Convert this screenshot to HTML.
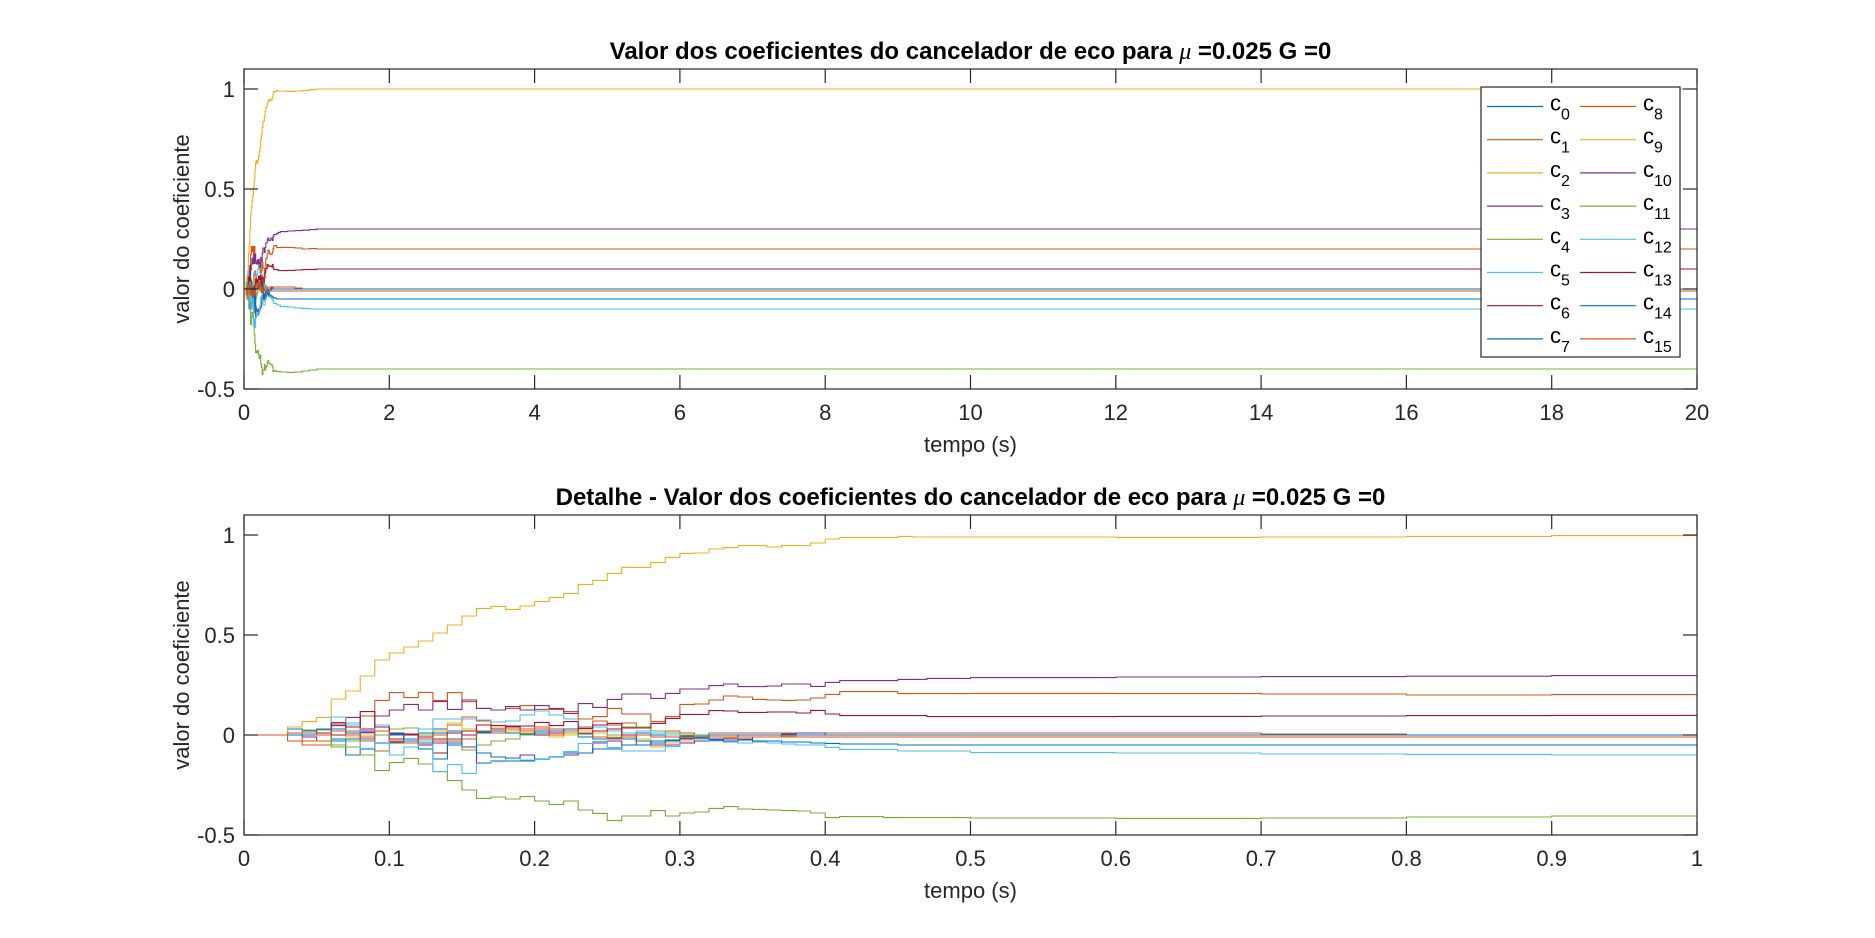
<!DOCTYPE html>
<html><head><meta charset="utf-8"><style>
html,body{margin:0;padding:0;background:#fff;}
svg{display:block;font-family:"Liberation Sans",Arial,sans-serif;}
</style></head><body>
<svg id="fig" width="1875" height="938" viewBox="0 0 1875 938" xmlns="http://www.w3.org/2000/svg"></svg>
<script>
// time steps: index k -> t = k*0.01 for k=0..50, then late entries at t=0.6,0.7,0.8,0.9,1.0
const stepTimes = [];
for (let k = 0; k <= 50; k++) stepTimes.push(k / 100);
stepTimes.push(0.6, 0.7, 0.8, 0.9, 1.0);
const seriesNames = ["c0","c1","c2","c3","c4","c5","c6","c7","c8","c9","c10","c11","c12","c13","c14","c15"];
const seriesColors = ["#0072BD","#D95319","#EDB120","#7E2F8E","#77AC30","#4DBEEE","#A2142F","#0072BD","#D95319","#EDB120","#7E2F8E","#77AC30","#4DBEEE","#A2142F","#0072BD","#D95319"];
const c0 = [0,0,0,0.03,0.02,0.025,-0.03,-0.02,0.01,0.02,0.0,-0.02,0.01,0.03,0.02,-0.02,0.01,0.03,0.02,0.0,0.02,0.01,0.0,-0.01,-0.02,-0.01,0.0,0.01,0.0,-0.01,-0.005,0,0,0,0,0,0,0,0,0,0,0,0,0,0,0,0,0,0,0,0,0,0,0,0,0];
const c1 = [0,0,0,-0.03,-0.05,-0.05,0.06,0.02,-0.01,-0.08,-0.035,-0.04,-0.05,-0.03,0.05,0.09,0.07,0.04,0.04,0.03,0.04,0.03,0.02,0.04,0.07,0.05,0.06,0.04,0.02,0.02,0.01,0.0,0.01,0.01,0.01,0.01,0.01,0.01,0.01,0.01,0.01,0.01,0.01,0.01,0.01,0.01,0.01,0.01,0.01,0.01,0.01,0.01,0.005,0,0,0];
const c2 = [0,0,0,0,0.0,0.01,0.0,-0.01,0.0,0.02,0.01,0.0,0.03,0.02,0.06,0.03,0.02,0.04,0.02,0.01,0.0,-0.01,0.0,0.02,0.01,-0.01,-0.02,-0.02,-0.06,-0.04,-0.03,-0.02,-0.02,-0.015,-0.01,-0.01,-0.01,-0.005,0,0,0,0,0,0,0,0,0,0,0,0,0,0,0,0,0,0];
const c3 = [0,0,0,0,-0.01,-0.03,0.05,0.05,0.02,0.0,-0.03,-0.03,-0.05,-0.04,-0.02,-0.06,-0.14,-0.13,-0.115,-0.1,-0.12,-0.11,-0.1,-0.09,-0.04,-0.03,-0.05,-0.03,-0.05,-0.05,-0.04,-0.03,-0.025,-0.02,-0.02,-0.01,-0.01,0.005,0.01,0.01,0,0,0,0,0,0,0,0,0,0,0,0,0,0,0,0];
const c4 = [0,0,0,0,0.01,0.03,-0.05,-0.06,-0.1,0.0,0.03,0.035,0.0,-0.02,-0.05,-0.075,-0.05,-0.03,-0.02,0.0,0.01,0.02,0.01,0.03,0.02,0.0,0.04,0.04,0.02,0.01,0.0,0.0,-0.01,-0.01,0.0,0.0,0.0,0.0,0.0,0.0,0,0,0,0,0,0,0,0,0,0,0,0,0,0,0,0];
const c5 = [0,0,0,0,0,0,0.09,0.06,0.01,0.05,-0.02,0.0,0.03,0.08,0.08,0.08,0.075,0.065,0.07,0.1,0.12,0.1,0.08,0.03,0.04,0.02,0.01,0.02,0.01,0.0,-0.01,-0.005,0,0,0,0,0,0,0,0,0,0,0,0,0,0,0,0,0,0,0,0,0,0,0,0];
const c6 = [0,0,0,0,0,0.01,0.0,0.02,0.03,0.04,-0.02,0.0,-0.05,-0.09,-0.03,0.0,0.05,0.03,0.04,0.02,0.0,0.01,0.03,0.01,0.02,0.03,0.0,-0.03,-0.04,-0.03,-0.02,-0.02,-0.01,-0.01,0,0,0,0,0,0,0,0,0,0,0,0,0,0,0,0,0,0,0,0,0,0];
const c7 = [0,0,0,0.03,0.01,0.03,-0.02,-0.1,-0.07,-0.04,-0.04,-0.02,-0.07,-0.12,-0.05,0.02,-0.09,-0.11,-0.13,-0.13,-0.12,-0.11,-0.09,-0.09,-0.07,-0.07,-0.05,-0.05,-0.03,-0.025,-0.015,-0.01,0,0,0,0,0,0,0,0,0,0,0,0,0,0,0,0,0,0,0,0,0,0,0,0];
const c8 = [0,0,0,0,-0.03,-0.03,0.063,0.02,0.095,0.173,0.212,0.187,0.213,0.173,0.212,0.167,0.133,0.125,0.133,0.147,0.128,0.128,0.117,0.08,0.092,0.133,0.105,0.105,0.067,0.092,0.153,0.155,0.175,0.195,0.19,0.178,0.175,0.173,0.175,0.185,0.203,0.217,0.217,0.217,0.217,0.207,0.207,0.207,0.207,0.207,0.208,0.207,0.205,0.2,0.202,0.2];
const c9 = [0,0,0,0.04,0.067,0.088,0.18,0.22,0.295,0.375,0.41,0.44,0.47,0.51,0.55,0.595,0.633,0.643,0.628,0.645,0.667,0.688,0.708,0.753,0.773,0.808,0.838,0.838,0.862,0.888,0.908,0.91,0.93,0.937,0.947,0.947,0.94,0.947,0.947,0.96,0.98,0.987,0.987,0.987,0.987,0.993,0.99,0.99,0.99,0.99,0.99,0.988,0.99,0.993,0.997,1.0];
const c10 = [0,0,0,0,0,0,0.047,0.088,0.013,0.095,0.125,0.153,0.125,0.167,0.128,0.175,0.133,0.125,0.142,0.125,0.147,0.133,0.108,0.157,0.138,0.178,0.205,0.205,0.183,0.208,0.23,0.23,0.247,0.255,0.242,0.242,0.245,0.255,0.255,0.243,0.263,0.272,0.272,0.272,0.272,0.278,0.278,0.283,0.283,0.283,0.287,0.29,0.292,0.294,0.297,0.3];
const c11 = [0,0,0,0,0.025,0.025,-0.06,-0.03,-0.1,-0.178,-0.138,-0.117,-0.145,-0.183,-0.228,-0.275,-0.317,-0.31,-0.32,-0.308,-0.33,-0.347,-0.33,-0.375,-0.392,-0.428,-0.405,-0.405,-0.378,-0.405,-0.39,-0.385,-0.367,-0.358,-0.37,-0.372,-0.375,-0.378,-0.38,-0.39,-0.413,-0.408,-0.408,-0.408,-0.413,-0.413,-0.413,-0.413,-0.413,-0.413,-0.415,-0.417,-0.415,-0.41,-0.405,-0.4];
const c12 = [0,0,0,0,0,0,0.09,0.05,-0.067,0.05,-0.1,-0.06,-0.03,-0.183,-0.148,-0.192,-0.142,-0.133,-0.117,-0.125,-0.122,-0.108,-0.083,-0.042,-0.033,-0.063,-0.08,-0.08,-0.08,-0.058,-0.013,-0.02,-0.03,-0.035,-0.04,-0.035,-0.04,-0.045,-0.05,-0.05,-0.062,-0.072,-0.072,-0.072,-0.072,-0.08,-0.08,-0.08,-0.08,-0.08,-0.088,-0.09,-0.095,-0.097,-0.1,-0.1];
const c13 = [0,0,0,0,0,0,0.06,0.04,0.117,0.04,0.01,0.005,-0.01,-0.02,0.01,0.02,0.05,0.048,0.045,0.045,0.063,0.047,0.067,0.033,0.05,0.058,0.035,0.035,0.058,0.083,0.103,0.103,0.122,0.12,0.113,0.113,0.115,0.115,0.11,0.123,0.105,0.097,0.097,0.097,0.097,0.097,0.097,0.092,0.092,0.092,0.092,0.093,0.095,0.097,0.098,0.1];
const c14 = [0,0,0,0,0,0,0.03,0.01,-0.02,0.02,0.005,-0.03,-0.04,0.01,-0.04,-0.02,0.015,0.02,0.01,0.005,0.01,0.02,0.03,0.005,-0.01,-0.015,-0.02,-0.03,-0.04,-0.03,-0.01,-0.015,-0.02,-0.03,-0.025,-0.03,-0.03,-0.035,-0.035,-0.04,-0.042,-0.045,-0.045,-0.045,-0.045,-0.05,-0.05,-0.05,-0.05,-0.05,-0.05,-0.05,-0.05,-0.05,-0.05,-0.05];
const c15 = [0,0,0,0.01,0.01,0.0,0.02,0.0,-0.03,0.02,-0.03,-0.04,-0.02,0.0,-0.03,-0.02,0.02,0.01,0.03,0.02,0.03,0.0,0.02,0.01,-0.01,-0.02,-0.01,0.0,-0.01,-0.01,-0.01,-0.01,-0.01,-0.01,-0.01,-0.01,-0.01,-0.01,-0.01,-0.01,-0.01,-0.01,-0.01,-0.01,-0.01,-0.01,-0.01,-0.01,-0.01,-0.01,-0.01,-0.01,-0.01,-0.01,-0.01,-0.01];
const seriesValues = [c0,c1,c2,c3,c4,c5,c6,c7,c8,c9,c10,c11,c12,c13,c14,c15];
const yTickLabels = ["-0.5","0","0.5","1"];
const yTickValues = [-0.5,0,0.5,1];
const topXTicks = [0,2,4,6,8,10,12,14,16,18,20];
const botXTicks = [0,0.1,0.2,0.3,0.4,0.5,0.6,0.7,0.8,0.9,1];

const NS = "http://www.w3.org/2000/svg";
const svg = document.getElementById("fig");
function mk(tag, attrs, parent) {
  const e = document.createElementNS(NS, tag);
  for (const k in attrs) e.setAttribute(k, attrs[k]);
  (parent || svg).appendChild(e);
  return e;
}

function drawAxes(cfg) {
  const g = mk("g", {});
  
  
  const L = 244, R = 1697, T = cfg.top, B = cfg.top + 320;
  const xs = v => L + (v - cfg.xmin) / (cfg.xmax - cfg.xmin) * (R - L);
  const ys = v => B - (v - (-0.5)) / 1.6 * (B - T);
  mk("rect", {x: L, y: T, width: R - L, height: B - T, fill: "#fff"}, g);
  const sg = mk("g", {"clip-path": "url(#" + cfg.clip + ")"}, g);
  const cp = mk("clipPath", {id: cfg.clip}, g);
  mk("rect", {x: L, y: T, width: R - L, height: B - T}, cp);
  seriesValues.forEach((vals, si) => {
    let d = "M" + xs(stepTimes[0]).toFixed(2) + "," + ys(vals[0]).toFixed(2);
    for (let i = 1; i < vals.length; i++) {
      const x = xs(stepTimes[i]).toFixed(2);
      d += " H" + x + " V" + ys(vals[i]).toFixed(2);
    }
    d += " H" + xs(cfg.xmax).toFixed(2);
    const p = mk("path", {d: d, fill: "none", stroke: seriesColors[si], "stroke-width": 1.1}, sg);
    
    
  });
  mk("rect", {x: L, y: T, width: R - L, height: B - T, fill: "none", stroke: "#262626", "stroke-width": 1.2}, g);
  cfg.xticks.forEach(v => {
    const x = xs(v);
    mk("line", {x1: x, y1: B, x2: x, y2: B - 14, stroke: "#262626", "stroke-width": 1.2}, g);
    mk("line", {x1: x, y1: T, x2: x, y2: T + 14, stroke: "#262626", "stroke-width": 1.2}, g);
    const t = mk("text", {x: x, y: B + 31, "text-anchor": "middle", "font-size": 22, fill: "#262626"}, g);
    t.textContent = String(v);
    
    
  });
  yTickValues.forEach((v, i) => {
    const y = ys(v);
    mk("line", {x1: L, y1: y, x2: L + 14, y2: y, stroke: "#262626", "stroke-width": 1.2}, g);
    mk("line", {x1: R, y1: y, x2: R - 14, y2: y, stroke: "#262626", "stroke-width": 1.2}, g);
    const t = mk("text", {x: L - 9, y: y + 8, "text-anchor": "end", "font-size": 22, fill: "#262626"}, g);
    t.textContent = yTickLabels[i];
    
    
  });
  const xl = mk("text", {x: (L + R) / 2, y: B + 63, "text-anchor": "middle", "font-size": 22, fill: "#262626"}, g);
  xl.textContent = "tempo (s)";
  
  
  const cy = (T + B) / 2;
  const yl = mk("text", {x: 189, y: cy, "text-anchor": "middle", "font-size": 22, fill: "#262626", transform: "rotate(-90 189 " + cy + ")"}, g);
  yl.textContent = "valor do coeficiente";
  
  
  const ti = mk("text", {x: (L + R) / 2, y: T - 10, "text-anchor": "middle", "font-size": 24, "font-weight": "bold", fill: "#000"}, g);
  
  
  const s1 = mk("tspan", {}, ti); s1.textContent = cfg.prefix + "Valor dos coeficientes do cancelador de eco para ";
  const s2 = mk("tspan", {"font-family": "Liberation Serif, serif", "font-style": "italic", "font-weight": "normal"}, ti); s2.textContent = "μ";
  const s3 = mk("tspan", {}, ti); s3.textContent = " =0.025 G =0";
  return g;
}

drawAxes({name: "top-chart", clip: "clipTop", top: 69, xmin: 0, xmax: 20, xticks: topXTicks, prefix: ""});
drawAxes({name: "detail-chart", clip: "clipBot", top: 515, xmin: 0, xmax: 1, xticks: botXTicks, prefix: "Detalhe - "});

const lg = mk("g", {});


mk("rect", {x: 1481, y: 87, width: 199, height: 270, fill: "#fff", stroke: "#262626", "stroke-width": 1.2}, lg);
seriesNames.forEach((n, i) => {
  const col = Math.floor(i / 8), row = i % 8;
  const y = 106.5 + row * 33.2;
  const x0 = col === 0 ? 1487 : 1580;
  const e = mk("g", {}, lg);
  
  
  mk("line", {x1: x0, y1: y, x2: x0 + 56, y2: y, stroke: seriesColors[i], "stroke-width": 1.2}, e);
  const t = mk("text", {x: x0 + 63, y: y + 4, "font-size": 22, fill: "#000"}, e);
  const a = mk("tspan", {}, t); a.textContent = "c";
  const b = mk("tspan", {dy: 9, "font-size": 16}, t); b.textContent = n.slice(1);
});
</script>
</body></html>
